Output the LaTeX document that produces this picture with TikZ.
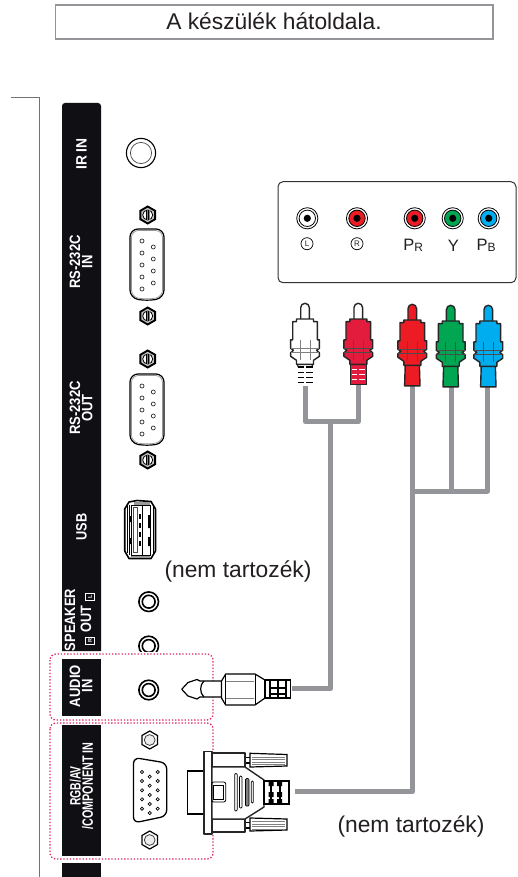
\documentclass[tikz,border=0pt]{standalone}
\usepackage{fontspec}
\setmainfont{Liberation Sans}
\definecolor{cablegray}{HTML}{939598}
\definecolor{panelblack}{HTML}{0F0F14}
\definecolor{dotpink}{HTML}{E0245E}
\definecolor{plugcrim}{HTML}{E31B3D}
\definecolor{rcared}{HTML}{ED1C24}
\definecolor{rcagreen}{HTML}{00A651}
\definecolor{rcablue}{HTML}{00AEEF}
\definecolor{textdark}{HTML}{231F20}
\newcommand{\ptx}[2]{\scalebox{#1}[1]{#2}}
\tikzset{
  cable/.style={draw=cablegray,line width=5pt,line join=round},
  panel/.style={fill=panelblack},
  paneltext/.style={text=white,rotate=90,font=\bfseries\fontsize{15}{12.2}\selectfont,align=center,inner sep=0},
  dotbox/.style={draw=dotpink,line width=1.3pt,dash pattern=on 1.3pt off 1.9pt,rounded corners=6pt},
  body/.style={draw=black!85,line width=1.4pt,line join=round},
  note/.style={text=textdark,font=\fontsize{22.8}{26}\selectfont,inner sep=0},
  lab/.style={text=textdark,font=\fontsize{16.5}{18}\selectfont,inner sep=0},
  ringlab/.style={circle,draw=black,line width=.7pt,inner sep=0,minimum size=12pt,text=textdark,font=\fontsize{8}{8}\selectfont},
  iconbox/.style={rotate=90,draw=white,line width=.7pt,inner sep=0,minimum width=7pt,minimum height=9pt,text=white,font=\bfseries\fontsize{5.5}{6}\selectfont},
}
\newcommand{\jackhole}[2]{%
  \draw[black,line width=1.6pt] (#1,#2) circle (9.8);
  \draw[black,line width=1.6pt] (#1,#2) circle (6.4);}
\newcommand{\dbnine}[2]{%
  \begin{scope}[shift={(#1,#2)}]
    \draw[black,line width=1.2pt,rounded corners=8pt] (-17,-36) -- (17,-36) -- (17,33) -- (0,36) -- (-17,33) -- cycle;
    \draw[cablegray,line width=.7pt,rounded corners=7pt] (-15.5,-34.5) -- (15.5,-34.5) -- (15.5,32) -- (0,34.5) -- (-15.5,32) -- cycle;
    \foreach \yy in {-24,-12,0,12,24} \draw[black!80,line width=.7pt] (-5,\yy) circle (2);
    \foreach \yy in {-18,-6,6,18} \draw[black!80,line width=.7pt] (6.3,\yy) circle (2);
  \end{scope}}
\newcommand{\darknut}[2]{%
  \begin{scope}[shift={(#1,#2)}]
    \draw[black,line width=1.9pt,fill=gray!45] (0,-8.5) -- (7.4,-4.2) -- (7.4,4.2) -- (0,8.5) -- (-7.4,4.2) -- (-7.4,-4.2) -- cycle;
    \draw[black,line width=.8pt,fill=white] (0,0) circle (5);
    \fill[gray] (-2.2,-4.7) rectangle (2.2,4.7);
    \draw[black,line width=.5pt] (-1,-4.8) -- (-1,4.8) (1,-4.8) -- (1,4.8);
  \end{scope}}
\newcommand{\lightnut}[2]{%
  \begin{scope}[shift={(#1,#2)}]
    \draw[black,line width=1.2pt,fill=white] (0,-9) -- (7.8,-4.5) -- (7.8,4.5) -- (0,9) -- (-7.8,4.5) -- (-7.8,-4.5) -- cycle;
    \draw[black!75,line width=.8pt,fill=gray!15] (0,0) circle (5.4);
  \end{scope}}
\newcommand{\rcasocket}[3]{%
  \begin{scope}[shift={(#1,#2)}]
    \draw[black,line width=.8pt] (0,0) circle (10.6);
    \draw[black,line width=.8pt,fill=#3] (0,0) circle (8.2);
    \fill[black] (0,0) circle (3.6);
  \end{scope}}
\newcommand{\plugupper}[4]{%
  \begin{scope}[shift={(#1,#2)}]
    \draw[body,fill=#4] (-4.3,17) -- (-4.3,4.3) arc (180:360:4.3) -- (4.3,17);
    \draw[body,fill=#3] (-8.5,15.7) -- (8.5,15.7) -- (8.5,18.3) -- (12.3,18.3) -- (12.3,36.5) -- (14.4,36.5) -- (14.4,45) -- (11.5,47) -- (14.4,49.5) -- (14.4,53) -- (8.5,57) -- (8.5,61) -- (-8.5,61) -- (-8.5,57) -- (-14.4,53) -- (-14.4,49.5) -- (-11.5,47) -- (-14.4,45) -- (-14.4,36.5) -- (-12.3,36.5) -- (-12.3,18.3) -- (-8.5,18.3) -- cycle;
  \end{scope}}
\begin{document}
\begin{tikzpicture}[x=1pt,y=-1pt]
\useasboundingbox (0,0) rectangle (517,877);
\fill[white] (0,0) rectangle (517,877);

% title
\draw[cablegray,line width=1.3pt] (55.5,5) rectangle (493,39);
\node[note,anchor=base] (title) at (274,29.3) {A készülék hátoldala.};

% bracket
\coordinate (brA) at (11,98);
\coordinate (brB) at (39.3,98);
\coordinate (brC) at (39.3,877);
\draw[black!55,line width=1pt] (brA) -- (brB) -- (brC);

% panel
\fill[panel] (62,651) [rounded corners=3pt] -- (62,103) -- (101,103) [sharp corners] -- (101,651) -- cycle;
\fill[panel] (62,659) rectangle (101,716);
\fill[panel] (62,725) rectangle (101,856);
\fill[panel] (62,863) rectangle (101,877);

\node[paneltext] (irin) at (81.5,154) {\ptx{.92}{IR IN}};
\node[paneltext] (rsin) at (81,262) {\ptx{.87}{RS-232C}\\\ptx{.87}{IN}};
\node[paneltext] (rsout) at (81,408) {\ptx{.87}{RS-232C}\\\ptx{.87}{OUT}};
\node[paneltext] (usb) at (81.5,527) {\ptx{.85}{USB}};
\node[paneltext] (spk) at (70,620) {\ptx{.86}{SPEAKER}};
\node[paneltext] (spkout) at (86,619) {\ptx{.85}{OUT}};
\node[iconbox] (iconr) at (90,641) {R};
\node[iconbox] (iconl) at (90,597) {L};
\node[paneltext] (audio) at (81,686) {\ptx{.87}{AUDIO}\\\ptx{.87}{IN}};
\node[paneltext] (rgb) at (81.5,786) {\ptx{.69}{RGB/AV}\\\ptx{.72}{/COMPONENT IN}};

% dotted regions
\draw[dotbox] (50,654) rectangle (213,720);
\draw[dotbox] (50,723) rectangle (213,859);

% IR
\draw[black,line width=1.1pt] (141,153) circle (14.6);
\draw[black!70,line width=.7pt] (141,153) circle (10.6);

% RS-232
\darknut{147.7}{215}
\dbnine{147}{265}
\darknut{147.7}{316}
\darknut{147.7}{359}
\dbnine{147}{410}
\darknut{147.7}{460}

% USB
\draw[black,line width=1.6pt,fill=white,line join=round] (124.7,509) -- (129,502) -- (137,500.5) -- (151,501.5) -- (155.5,509) -- (155.5,551) -- (151,558.5) -- (129,558.5) -- (124.7,551) -- cycle;
\fill[gray!80] (134,501.5) rectangle (150,505);
\fill[gray!80] (131,554.5) rectangle (150,558);
\draw[black,line width=.7pt] (127.3,506) -- (127.3,553) (129.6,505) -- (129.6,555) (153,506) -- (153,553);
\draw[black,line width=.9pt] (131.5,505) rectangle (150,555);
\draw[black!70,line width=.7pt] (133,507) -- (137.5,507) -- (137.5,552) -- (133,552) -- cycle;
\draw[black,line width=.7pt] (142,505) -- (142,555);
\fill[black] (129.7,516) rectangle (131.5,522) (129.7,538) rectangle (131.5,544);
\fill[black] (148,515) rectangle (150,528) (148,537) rectangle (150,546);
\foreach \yy in {514,523,532,541} \fill[black] (139,\yy) rectangle (141,\yy+5);

% audio jacks
\jackhole{148.7}{601.7}
\begin{scope}
  \clip (120,630) rectangle (180,651);
  \jackhole{148.7}{646}
\end{scope}
\jackhole{148.7}{690}

% VGA port
\lightnut{149.7}{740}
\draw[black,line width=1.3pt,rounded corners=6pt,fill=white] (133.5,757.5) -- (166.7,763) -- (166.7,816) -- (133.5,823) -- cycle;
\foreach \yy in {772,781,790.3,799.3,808.7} {\draw[black,line width=.65pt] (142,\yy) circle (1.6); \draw[black,line width=.65pt] (157.7,\yy) circle (1.6);}
\foreach \yy in {776.7,785.7,795,804,813} \draw[black,line width=.65pt] (149.7,\yy) circle (1.6);
\lightnut{149.7}{840}

% connector panel
\draw[black!80,line width=1pt,rounded corners=5pt] (278,181.7) rectangle (516,282.7);
\rcasocket{307.3}{218.3}{white}
\rcasocket{357}{218.3}{rcared}
\rcasocket{414.7}{218.3}{rcared}
\rcasocket{452.7}{218.3}{rcagreen}
\rcasocket{488.7}{218.3}{rcablue}
\node[ringlab] (labl) at (307,243.7) {L};
\node[ringlab] (labr) at (357,243.7) {R};
\node[lab] (pr) at (413.3,245.5) {P\raisebox{-1pt}{\fontsize{12}{12}\selectfont R}};
\node[lab] (yy) at (453.3,245.5) {Y};
\node[lab] (pb) at (486,245.5) {P\raisebox{-1pt}{\fontsize{12}{12}\selectfont B}};

% cables
\coordinate (cW) at (305,384);
\coordinate (cR) at (358.5,384);
\coordinate (cjoinW) at (305,421.7);
\coordinate (cjoinR) at (358.5,421.7);
\coordinate (cmid) at (330.7,421.7);
\coordinate (ccorner) at (330.7,688.5);
\coordinate (cjack) at (292,688.5);
\draw[cable] (cW) -- (cjoinW) -- (cjoinR) -- (cR);
\draw[cable] (cmid) -- (ccorner) -- (cjack);
\coordinate (cPr) at (412.3,380);
\coordinate (cY) at (451.7,380);
\coordinate (cPb) at (487.7,380);
\coordinate (cjoinY) at (451.7,491);
\coordinate (cjoinPb) at (487.7,491);
\coordinate (cjoinPr) at (412.3,491);
\coordinate (cVcorner) at (412.3,791.7);
\coordinate (cVga) at (295,791.7);
\draw[cable] (cPb) -- (cjoinPb) -- (cjoinPr);
\draw[cable] (cY) -- (cjoinY);
\draw[cable] (cPr) -- (cVcorner) -- (cVga);

% RCA plugs
\begin{scope}[shift={(305,303.3)}]
  \fill[white] (-9,60) rectangle (9,82.5);
  \draw[black!85,line width=1.2pt] (-8.3,60) -- (-6.5,64) (8.3,60) -- (6.5,64);
  \foreach \yy in {63.5,69,74,79} {\draw[black,line width=1.4pt] (-7.5,\yy) -- (-1,\yy) (1,\yy) -- (7.5,\yy);}
\end{scope}
\plugupper{305}{303.3}{white}{white}
\begin{scope}[shift={(305,303.3)}]
  \draw[gray,line width=.8pt] (-5,37) -- (-5,57) (5,37) -- (5,57) (-14,45) -- (14,45) (-14,49.5) -- (14,49.5);
\end{scope}
\begin{scope}[shift={(358.3,303.3)}]
  \draw[black!85,line width=1.1pt,fill=plugcrim] (-8,60) rectangle (8,81);
  \foreach \yy in {66,71,76} {\draw[white,line width=1pt] (-6.5,\yy) -- (-1,\yy) (1,\yy) -- (6.5,\yy);}
\end{scope}
\plugupper{358.3}{303.3}{plugcrim}{white}
\begin{scope}[shift={(358.3,303.3)}]
  \draw[black!70,line width=.8pt] (-5,37) -- (-5,57) (5,37) -- (5,57) (-14,45) -- (14,45) (-14,49.5) -- (14,49.5);
\end{scope}
\foreach \xx/\yy/\cc in {412.3/304.3/rcared,450.7/305.3/rcagreen,488.3/305.3/rcablue} {
  \begin{scope}[shift={(\xx,\yy)}]
    \draw[body,fill=\cc] (-7,58) -- (7,58) -- (7.7,81.5) -- (-7.7,81.5) -- cycle;
  \end{scope}
  \plugupper{\xx}{\yy}{\cc}{\cc}
  \begin{scope}[shift={(\xx,\yy)}]
    \draw[black!70,line width=.8pt] (-5,37) -- (-5,57) (5,37) -- (5,57) (-14,45) -- (14,45) (-14,49.5) -- (14,49.5);
  \end{scope}
}

% audio plug
\draw[black,line width=1.2pt,fill=white,line join=round] (221.7,681) -- (200,681) -- (197,679.5) -- (188,682.5) -- (181.7,689.3) -- (188,696) -- (197,699) -- (200,697) -- (221.7,697) -- cycle;
\draw[black,line width=1.2pt] (204,681) .. controls (199.5,685) and (199.5,693) .. (204,697);
\draw[black,line width=1.2pt,fill=white,line join=round] (221.5,681) -- (225.7,674) -- (255,674) -- (265,680) -- (265,698) -- (255,705) -- (225.7,705) -- (221.5,698) -- cycle;
\draw[black,line width=.8pt] (225.7,674) -- (225.7,705) (255,674) -- (255,705);
\draw[gray,line width=1pt] (226,681) -- (254,681) (226,698) -- (254,698);
\draw[black,line width=1.1pt,fill=white] (265,680) rectangle (290.5,698);
\draw[black,line width=1.7pt] (270,680) -- (270,698) (278.3,680) -- (278.3,698) (286,680) -- (286,698) (270,688) -- (286,688) (270,694) -- (286,694);

% VGA plug
\draw[black,line width=1.5pt,fill=white] (187.3,771) rectangle (204,814);
\draw[body,fill=white] (204,751.7) rectangle (212,834);
\draw[black,line width=1.1pt] (245,757.5) -- (250,757.5) (245,763) -- (250,763) (245,822.5) -- (250,822.5) (245,828) -- (250,828);
\draw[black,line width=1.2pt,fill=white] (250,753.3) -- (287,754.5) -- (287,766) -- (250,767) -- cycle;
\draw[black,line width=1.2pt,fill=white] (250,818) -- (287,819) -- (287,830) -- (250,831) -- cycle;
\foreach \yy in {757,759.5,762,764.5} \draw[gray,line width=.6pt] (252,\yy) -- (285,\yy);
\foreach \yy in {821.5,824,826.5,829} \draw[gray,line width=.6pt] (252,\yy) -- (285,\yy);
\draw[body,fill=white] (212,753) rectangle (245,767);
\draw[body,fill=white] (212,819) rectangle (245,832);
\draw[body,fill=white] (212,767) -- (245,767) -- (264,780) -- (264,807) -- (245,819) -- (212,819) -- cycle;
\draw[black,line width=.8pt,rounded corners=2pt] (211.7,782) rectangle (225.7,802);
\draw[black,line width=.7pt] (213.5,785) rectangle (223.5,799);
\draw[black,line width=.7pt,rounded corners=1pt] (234.7,773.5) rectangle (237.2,811);
\draw[black,line width=.7pt,rounded corners=1pt] (239.5,776) rectangle (242,808);
\draw[black,line width=.7pt,fill=gray,rounded corners=1pt] (245.5,778.5) rectangle (249,806);
\draw[black,line width=.7pt,rounded corners=1pt] (251.3,781) rectangle (253.3,803);
\draw[black,line width=1.1pt,fill=white] (264,781) rectangle (289,804);
\foreach \xx in {268.5,277} {\fill[black] (\xx,781) rectangle (\xx+5,786) (\xx,792) rectangle (\xx+5,797);\fill[black] (\xx+1.5,781) rectangle (\xx+3.5,804);}
\fill[black] (268.5,799) rectangle (273.5,804) (277,799) rectangle (282,804);

% notes
\node[note] (nem1) at (238,571) {(nem tartozék)};
\node[note] (nem2) at (411,826.5) {(nem tartozék)};
\end{tikzpicture}
\end{document}
